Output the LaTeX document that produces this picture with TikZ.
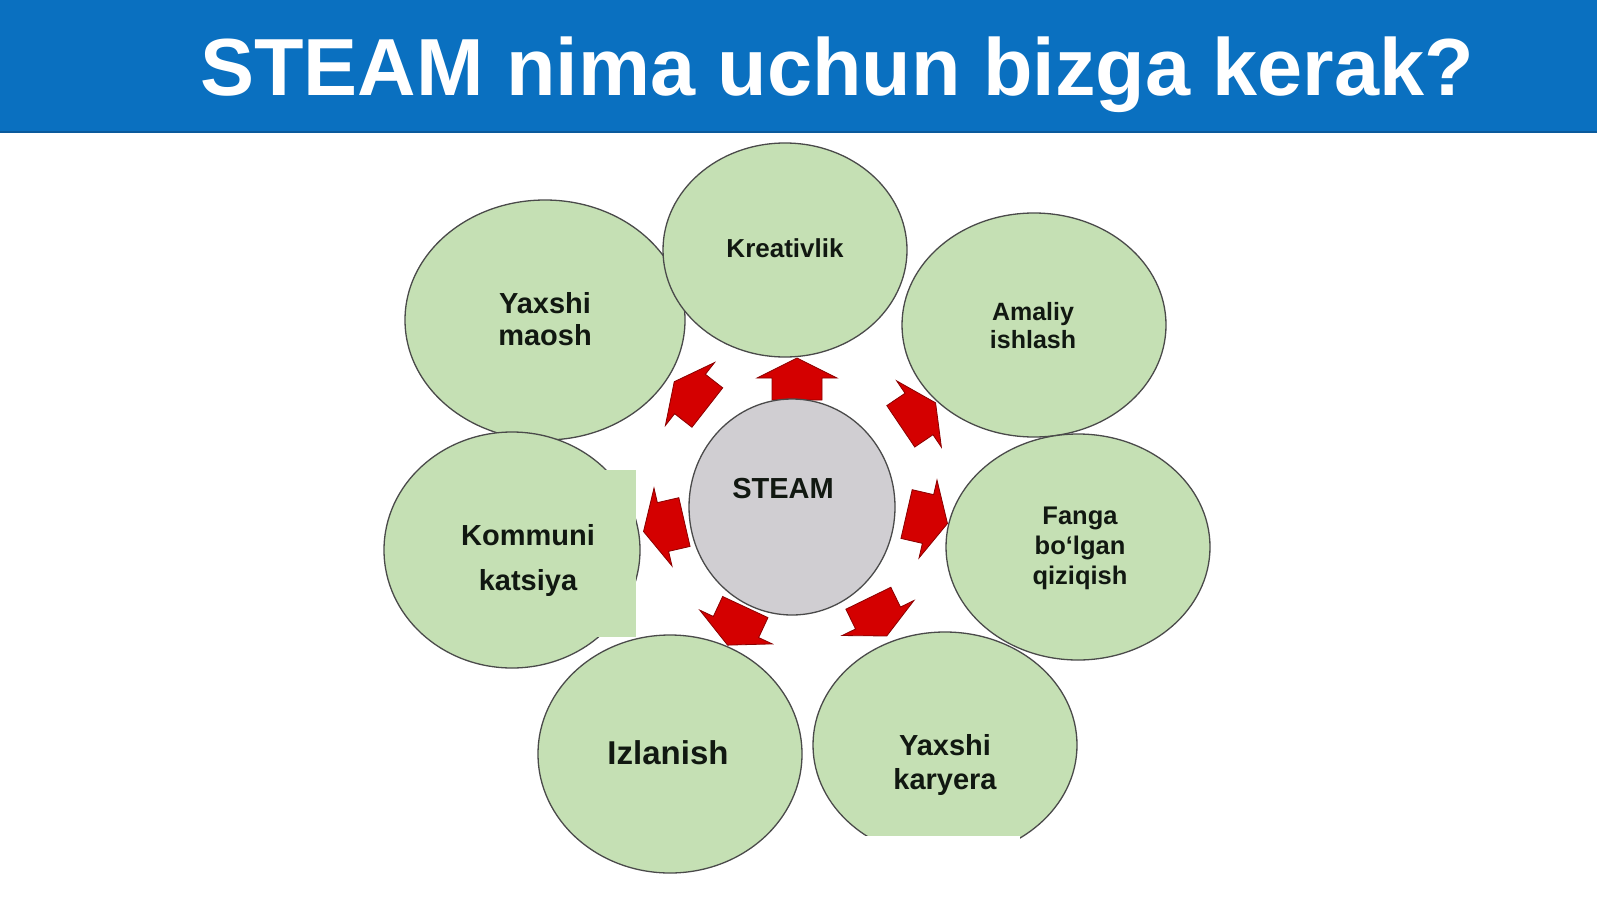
\documentclass[tikz,border=0pt]{standalone}
\usepackage{fontspec}
\setmainfont{Liberation Sans}
\usetikzlibrary{shapes.geometric}
\definecolor{barblue}{HTML}{0A70C0}
\definecolor{baredge}{HTML}{0A5A9C}
\definecolor{bubblegreen}{HTML}{C5E0B4}
\definecolor{ringgrey}{HTML}{4A4A4A}
\definecolor{coregrey}{HTML}{D0CED2}
\definecolor{arrowred}{HTML}{D40000}
\definecolor{arrowedge}{HTML}{8A0000}
\definecolor{inktext}{HTML}{111811}
\begin{document}
\begin{tikzpicture}[x=1pt,y=-1pt,
  bubble/.style={ellipse, draw=ringgrey, line width=1.3pt, fill=bubblegreen, inner sep=0pt, outer sep=0pt},
  core/.style={ellipse, draw=ringgrey, line width=1.3pt, fill=coregrey, inner sep=0pt, outer sep=0pt},
  lbl/.style={text=inktext, align=center, inner sep=0pt},
  blockarr/.pic={\filldraw[fill=arrowred, draw=arrowedge, line width=0.8pt, line join=miter]
     (-22,-25) -- (0,-25) -- (0,-40) -- (20,0) -- (0,40) -- (0,25) -- (-22,25) -- cycle;}
]
\useasboundingbox (0,0) rectangle (1600,899);
\fill[white] (0,0) rectangle (1600,899);

% title bar
\fill[barblue] (0,0) rectangle (1597,133);
\draw[baredge, line width=2pt] (0,132) -- (1597,132);
\node[anchor=base west, inner sep=0pt, text=white, font=\fontsize{81}{96}\selectfont\bfseries] (title) at (200,95) {STEAM nima uchun bizga kerak?};

% arrows
\pic (a1) [rotate=90]  at (797,378) {blockarr};
\pic (a2) [rotate=142] at (690,394) {blockarr};
\pic (a3) [rotate=34]  at (919,414) {blockarr};
\pic (a4) [rotate=-13] at (928,519) {blockarr};
\pic (a5) [rotate=-64] at (878,618) {blockarr};
\pic (a6) [rotate=-115] at (736,627) {blockarr};
\pic (a7) [rotate=193] at (663,527) {blockarr};

% outer bubbles
\node[bubble, minimum width=280pt, minimum height=240pt] (maosh) at (545,320) {};
\node[bubble, minimum width=244pt, minimum height=214pt] (kreativ) at (785,250) {};
\node[bubble, minimum width=264pt, minimum height=224pt] (amaliy) at (1034,325) {};
\node[bubble, minimum width=264pt, minimum height=226pt] (fanga) at (1078,547) {};
\node[bubble, minimum width=264pt, minimum height=226pt] (karyera) at (945,745) {};
\node[bubble, minimum width=264pt, minimum height=238pt] (izlanish) at (670,754) {};
\node[bubble, minimum width=256pt, minimum height=236pt] (kommuni) at (512,550) {};

% patches
\fill[bubblegreen] (560,470) rectangle (636,637);
\fill[white] (857,836) rectangle (1020,862);

% centre
\node[core, minimum width=206pt, minimum height=216pt] (steam) at (792,507) {};

% labels
\node[lbl, font=\fontsize{29}{32}\selectfont\bfseries] (maosh-t) at (545,319) {Yaxshi\\maosh};
\node[lbl, font=\fontsize{26}{30}\selectfont\bfseries] (kreativ-t) at (785,248) {Kreativlik};
\node[lbl, font=\fontsize{25}{28}\selectfont\bfseries] (amaliy-t) at (1033,326) {Amaliy\\ishlash};
\node[lbl, font=\fontsize{25.5}{30}\selectfont\bfseries] (fanga-t) at (1080,548) {Fanga\\bo‘lgan\\qiziqish};
\node[lbl, font=\fontsize{29}{45}\selectfont\bfseries] (kommuni-t) at (528,560) {Kommuni\\katsiya};
\node[lbl, font=\fontsize{29}{34}\selectfont\bfseries] (karyera-t) at (945,765) {Yaxshi\\karyera};
\node[lbl, font=\fontsize{33}{38}\selectfont\bfseries] (izlanish-t) at (668,753) {Izlanish};
\node[lbl, font=\fontsize{29}{34}\selectfont\bfseries] (steam-t) at (783,489) {STEAM};
\end{tikzpicture}
\end{document}
